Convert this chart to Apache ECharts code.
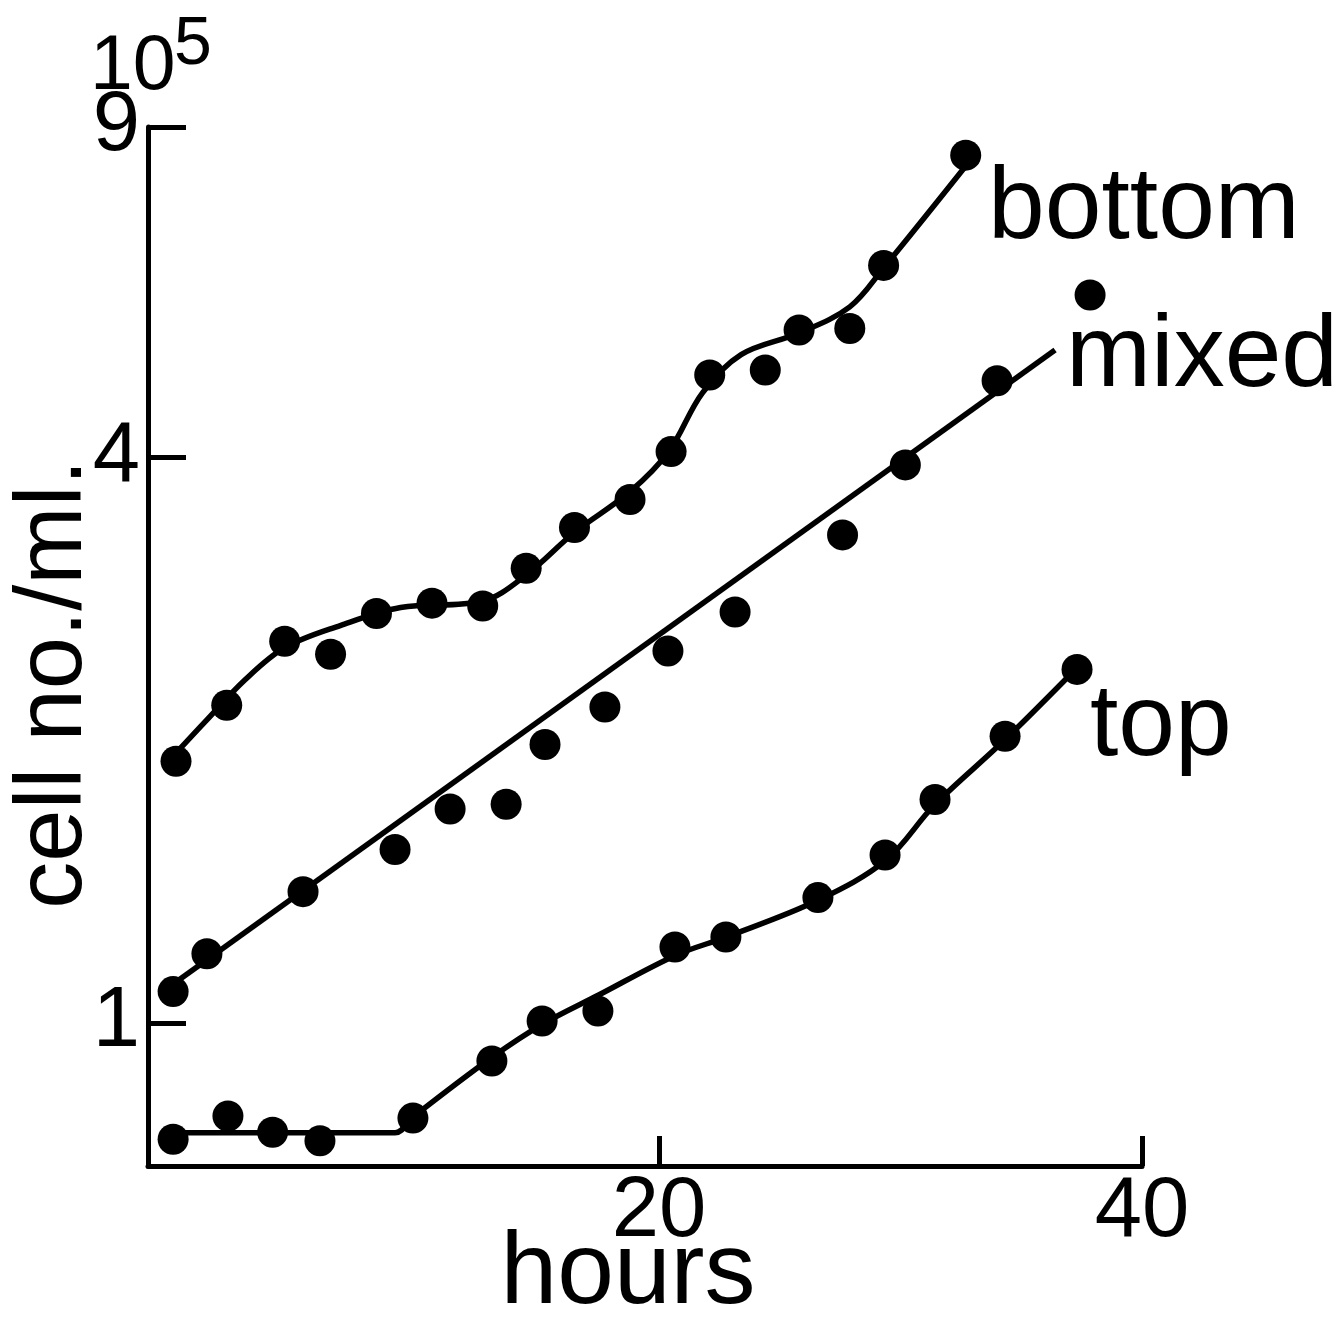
<!DOCTYPE html>
<html><head><meta charset="utf-8">
<script src="https://cdn.jsdelivr.net/npm/echarts@6/dist/echarts.min.js"></script>
<style>html,body{margin:0;padding:0;background:#fff}#c{width:1339px;height:1319px}</style>
</head><body><div id="c"></div>
<script>
// ---- data (hours, cell no./ml in units of 10^5) ----
const xTicks = [20, 40];
const yTicks = [1, 4, 9];

const bottomHours = [0.0, 2.1, 4.5, 6.4, 8.3, 10.6, 12.7, 14.5, 16.5, 18.8, 20.5, 22.1, 24.4, 25.8, 27.9, 29.3, 32.7];
const bottomCells = [1.90, 2.18, 2.55, 2.47, 2.73, 2.80, 2.78, 3.05, 3.37, 3.61, 4.06, 4.90, 4.96, 5.47, 5.49, 6.41, 8.40];

const mixedHours = [-0.12, 1.28, 5.26, 9.07, 11.35, 13.67, 15.28, 17.76, 20.37, 23.15, 27.6, 30.2, 34.0, 37.85];
const mixedCells = [1.08, 1.185, 1.38, 1.53, 1.69, 1.71, 1.98, 2.17, 2.49, 2.74, 3.31, 3.93, 4.83, 5.96];

const topHours = [-0.12, 2.15, 4.0, 5.96, 9.81, 13.08, 15.16, 17.47, 20.66, 22.77, 26.58, 29.36, 31.43, 34.33, 37.31];
const topCells = [0.752, 0.796, 0.765, 0.749, 0.792, 0.911, 1.005, 1.03, 1.205, 1.235, 1.36, 1.51, 1.73, 2.02, 2.38];

// fitted curves drawn through the points
const bottomFitHours = [0.04, 1.2, 2.86, 4.5, 6.8, 9.3, 12.7, 14.5, 16.5, 18.8, 20.4, 21.8, 23.4, 25.8, 27.9, 29.3, 32.9];
const bottomFitCells = [1.944, 2.093, 2.32, 2.51, 2.65, 2.77, 2.815, 3.00, 3.33, 3.68, 4.06, 4.69, 5.15, 5.43, 5.79, 6.37, 8.30];

const mixedFitHours = [-0.46, 36.4];
const mixedFitCells = [1.084, 5.21];

const topFitHours = [-0.12, 9.07, 9.81, 13.1, 15.2, 17.5, 20.7, 22.8, 26.6, 29.4, 31.4, 34.3, 37.3];
const topFitCells = [0.764, 0.764, 0.794, 0.92, 0.998, 1.071, 1.181, 1.235, 1.352, 1.491, 1.706, 2.0, 2.388];

const seriesLabels = ['bottom', 'mixed', 'top'];
const yUnit = '10';
const yUnitExp = '5';
const xName = 'hours';
const yName = 'cell no./ml.';

// ---- build ----
const L = v => Math.log10(v);
const pts = (h, c) => h.map((x, i) => [x, L(c[i])]);
const FONT = '"Liberation Sans", Arial, sans-serif';
const BLACK = '#000';

const chart = echarts.init(document.getElementById('c'), null, {renderer: 'canvas'});

const fitStyle = {color: BLACK, width: 5.5, opacity: 1};
const dotStyle = {color: BLACK, opacity: 1};
const option = {
  backgroundColor: '#fff',
  animation: false,
  grid: {left: 148, right: 197, top: 127, bottom: 153, containLabel: false},
  xAxis: {
    type: 'value', min: -1.16, max: 40,
    axisLine: {onZero: false, lineStyle: {color: BLACK, width: 5}},
    axisTick: {inside: true, length: 30, customValues: xTicks, lineStyle: {color: BLACK, width: 5}},
    axisLabel: {customValues: xTicks, color: BLACK, fontFamily: FONT, fontSize: 85, margin: 4},
    splitLine: {show: false}
  },
  yAxis: {
    type: 'value', min: -0.1523, max: L(9),
    axisLine: {onZero: false, lineStyle: {color: BLACK, width: 5}},
    axisTick: {inside: true, length: 38, customValues: yTicks.map(L), lineStyle: {color: BLACK, width: 5}},
    axisLabel: {customValues: yTicks.map(L), color: BLACK, fontFamily: FONT, fontSize: 85, margin: 8,
      formatter: v => String(Math.round(Math.pow(10, v)))},
    splitLine: {show: false}
  },
  series: [
    {name: seriesLabels[0] + ' fit', type: 'line', data: pts(bottomFitHours, bottomFitCells), smooth: 0.35,
      showSymbol: false, lineStyle: fitStyle, z: 2},
    {name: seriesLabels[1] + ' fit', type: 'line', data: pts(mixedFitHours, mixedFitCells),
      showSymbol: false, lineStyle: fitStyle, z: 2},
    {name: seriesLabels[2] + ' fit', type: 'line', data: pts(topFitHours, topFitCells), smooth: 0.35,
      showSymbol: false, lineStyle: fitStyle, z: 2},
    {name: seriesLabels[0], type: 'scatter', data: pts(bottomHours, bottomCells), symbolSize: 31,
      itemStyle: dotStyle, z: 3},
    {name: seriesLabels[1], type: 'scatter', data: pts(mixedHours, mixedCells), symbolSize: 31,
      itemStyle: dotStyle, z: 3},
    {name: seriesLabels[2], type: 'scatter', data: pts(topHours, topCells), symbolSize: 31,
      itemStyle: dotStyle, z: 3}
  ],
  graphic: [
    {type: 'text', x: 90, y: 68, style: {text: yUnit, fill: BLACK, font: '77px ' + FONT, align: 'left', verticalAlign: 'middle'}},
    {type: 'text', x: 174, y: 45, style: {text: yUnitExp, fill: BLACK, font: '68px ' + FONT, align: 'left', verticalAlign: 'middle'}},
    {type: 'text', x: 55, y: 684, rotation: Math.PI / 2,
      style: {text: yName, fill: BLACK, font: '94px ' + FONT, align: 'center', verticalAlign: 'middle'}},
    {type: 'text', x: 628, y: 1275, style: {text: xName, fill: BLACK, font: '102px ' + FONT, align: 'center', verticalAlign: 'middle'}},
    {type: 'text', x: 988, y: 210, style: {text: seriesLabels[0], fill: BLACK, font: '102px ' + FONT, align: 'left', verticalAlign: 'middle'}},
    {type: 'text', x: 1066, y: 358, style: {text: seriesLabels[1], fill: BLACK, font: '102px ' + FONT, align: 'left', verticalAlign: 'middle'}},
    {type: 'text', x: 1090, y: 727, style: {text: seriesLabels[2], fill: BLACK, font: '102px ' + FONT, align: 'left', verticalAlign: 'middle'}}
  ]
};
chart.setOption(option);
</script>
</body></html>
